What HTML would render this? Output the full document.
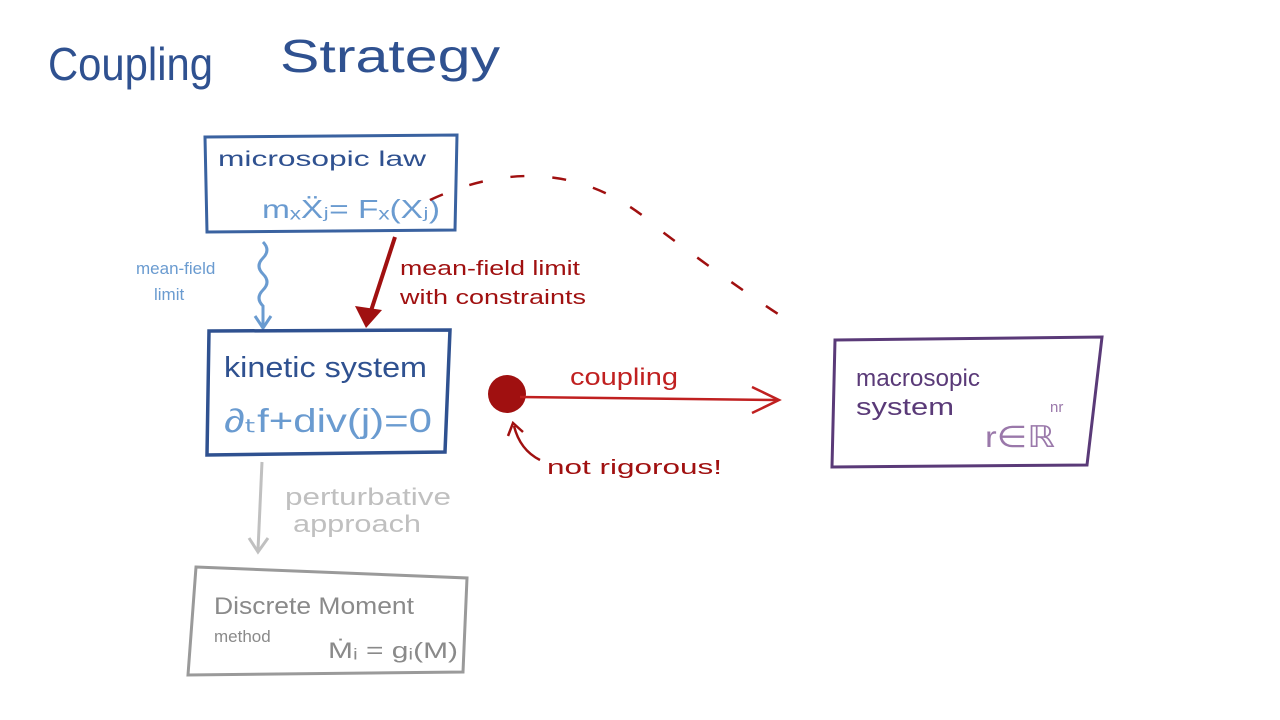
<!DOCTYPE html>
<html><head><meta charset="utf-8"><style>
html,body{margin:0;padding:0;background:#fff;}
svg{display:block;}
text{font-family:"Liberation Sans",sans-serif;}
</style></head><body>
<svg width="1280" height="720" viewBox="0 0 1280 720" xmlns="http://www.w3.org/2000/svg">
<rect width="1280" height="720" fill="#fff"/>
<!-- title -->
<text x="48" y="80" font-size="46" fill="#2f5190" textLength="165" lengthAdjust="spacingAndGlyphs">Coupling</text>
<text x="280" y="72" font-size="46" fill="#2f5190" textLength="220" lengthAdjust="spacingAndGlyphs">Strategy</text>

<!-- microscopic box -->
<path d="M205 137 L457 135 L455 230 L207 232 Z" fill="none" stroke="#3a62a0" stroke-width="3"/>
<text x="218" y="166" font-size="21" fill="#2f5190" textLength="208" lengthAdjust="spacingAndGlyphs">microsopic   law</text>
<text x="262" y="218" font-size="26" fill="#6a9bd0" textLength="178" lengthAdjust="spacingAndGlyphs">mₓẌⱼ= Fₓ(Xⱼ)</text>

<!-- wavy mean-field -->
<path d="M263 242 q8 8 0 16 q-8 8 0 16 q8 8 0 16 q-8 8 0 16 l0 20" fill="none" stroke="#6a9bd0" stroke-width="3"/>
<path d="M255 316 L263 328 L271 316" fill="none" stroke="#6a9bd0" stroke-width="3"/>
<text x="136" y="274" font-size="17" fill="#6a9bd0">mean-field</text>
<text x="154" y="300" font-size="17" fill="#6a9bd0">limit</text>

<!-- red arrow down -->
<path d="M395 237 L368 320" stroke="#a01010" stroke-width="4" fill="none"/>
<path d="M355 306 L366 328 L382 310 Z" fill="#a01010"/>
<text x="400" y="275" font-size="20" fill="#a01010" textLength="180" lengthAdjust="spacingAndGlyphs">mean-field limit</text>
<text x="400" y="304" font-size="20" fill="#a01010" textLength="186" lengthAdjust="spacingAndGlyphs">with constraints</text>

<!-- dashed arc -->
<path d="M430 200 Q 560 140 660 230 Q 740 290 795 325" fill="none" stroke="#a01010" stroke-width="2.5" stroke-dasharray="14 28"/>

<!-- kinetic box -->
<path d="M209 331 L450 330 L445 452 L207 455 Z" fill="none" stroke="#2f5190" stroke-width="3.5"/>
<text x="224" y="377" font-size="29" fill="#2f5190" textLength="203" lengthAdjust="spacingAndGlyphs">kinetic system</text>
<text x="224" y="432" font-size="33" fill="#6a9bd0" textLength="208" lengthAdjust="spacingAndGlyphs">∂ₜf+div(j)=0</text>

<!-- coupling -->
<circle cx="507" cy="394" r="19" fill="#a01010"/>
<path d="M520 397 L778 400" stroke="#c02020" stroke-width="2.5"/>
<path d="M752 387 L779 400 L752 413" fill="none" stroke="#c02020" stroke-width="2.5"/>
<text x="570" y="385" font-size="24" fill="#c02020" textLength="108" lengthAdjust="spacingAndGlyphs">coupling</text>
<path d="M540 460 Q520 450 514 426" fill="none" stroke="#a01010" stroke-width="2.5"/>
<path d="M508 436 L513 423 L523 432" fill="none" stroke="#a01010" stroke-width="2.5"/>
<text x="547" y="474" font-size="20" fill="#a01010" textLength="175" lengthAdjust="spacingAndGlyphs">not rigorous!</text>

<!-- macro box -->
<path d="M835 340 L1102 337 L1087 465 L832 467 Z" fill="none" stroke="#5a3a78" stroke-width="3"/>
<text x="856" y="386" font-size="24" fill="#5a3a78" textLength="124" lengthAdjust="spacingAndGlyphs">macrosopic</text>
<text x="856" y="415" font-size="24" fill="#5a3a78" textLength="98" lengthAdjust="spacingAndGlyphs">system</text>
<text x="985" y="447" font-size="30" fill="#9a78aa" textLength="70" lengthAdjust="spacingAndGlyphs">r∈ℝ</text>
<text x="1050" y="412" font-size="15" fill="#9a78aa">nr</text>

<!-- gray arrow -->
<path d="M262 462 L258 550" stroke="#c0c0c0" stroke-width="3"/>
<path d="M249 538 L258 552 L268 538" fill="none" stroke="#c0c0c0" stroke-width="3"/>
<text x="285" y="505" font-size="24" fill="#c0c0c0" textLength="166" lengthAdjust="spacingAndGlyphs">perturbative</text>
<text x="293" y="532" font-size="24" fill="#c0c0c0" textLength="128" lengthAdjust="spacingAndGlyphs">approach</text>

<!-- discrete box -->
<path d="M196 567 L467 578 L463 672 L188 675 Z" fill="none" stroke="#9a9a9a" stroke-width="3"/>
<text x="214" y="614" font-size="24" fill="#8a8a8a" textLength="200" lengthAdjust="spacingAndGlyphs">Discrete Moment</text>
<text x="214" y="642" font-size="17" fill="#8a8a8a">method</text>
<text x="328" y="658" font-size="22" fill="#8a8a8a" textLength="130" lengthAdjust="spacingAndGlyphs">Ṁᵢ = gᵢ(M)</text>
</svg>
</body></html>
